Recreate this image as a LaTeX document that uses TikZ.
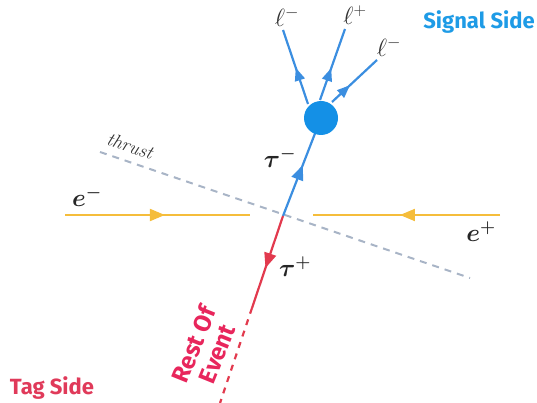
\documentclass[tikz,border=0pt]{standalone}
\usepackage{amsmath}
\usepackage{fontspec}
\setsansfont{Fira Sans}
\usetikzlibrary{arrows.meta,decorations.markings}
\definecolor{yel}{HTML}{F5BD3B}
\definecolor{blu}{HTML}{3B8EE0}
\definecolor{circ}{HTML}{1490E6}
\definecolor{redl}{HTML}{E23A4E}
\definecolor{roe}{HTML}{E8265C}
\definecolor{thr}{HTML}{A8B4C6}
\definecolor{sigblue}{HTML}{1E9BE6}
\definecolor{tagred}{HTML}{E03A5A}
\tikzset{
  marrow/.style={postaction={decorate},decoration={markings,mark=at position #1 with {\arrow{Triangle[length=15pt,width=12pt]}}}},
  sarrow/.style={postaction={decorate},decoration={markings,mark=at position #1 with {\arrow{Triangle[length=13pt,width=10pt]}}}},
  beam/.style={draw=yel,line width=2pt},
  bline/.style={draw=blu,line width=2.2pt},
  rline/.style={draw=redl,line width=2.2pt},
  mlab/.style={text=black!85,font=\fontsize{24}{28}\selectfont},
  llab/.style={text=black!80,font=\fontsize{23}{26}\selectfont},
  side/.style={font=\sffamily\bfseries\fontsize{22}{25}\selectfont},
}
\begin{document}
\begin{tikzpicture}[x=1pt,y=-1pt]
\useasboundingbox (0,0) rectangle (537,403);
% coordinates
\coordinate (X) at (283,216);
\coordinate (C) at (321,118);
\coordinate (Rs) at (252,308);
\coordinate (Re) at (220,403);
\coordinate (Tb) at (100,152);
\coordinate (Te) at (470,278);
\coordinate (EmA) at (65,215);
\coordinate (EmB) at (250,215);
\coordinate (EpA) at (500,215);
\coordinate (EpB) at (313,215);
\coordinate (S1) at (308,104);
\coordinate (S2) at (320,100);
\coordinate (S3) at (332,102);
\coordinate (L1) at (283,30);
\coordinate (L2) at (345,29);
\coordinate (L3) at (377,60);
% thrust
\draw[draw=thr,line width=2pt,dash pattern=on 7pt off 6pt] (Tb) -- (Te);
\node[rotate=-18,text=black!80,font=\itshape\fontsize{19}{22}\selectfont] (thrust) at (130,146) {thrust};
% beams
\draw[beam,marrow=0.54] (EmA) -- (EmB);
\draw[beam,marrow=0.535] (EpA) -- (EpB);
% tau lines
\draw[bline,marrow=0.52] (X) -- (C);
\draw[rline,marrow=0.565] (X) -- (Rs);
\draw[rline,dash pattern=on 6pt off 6pt] (Rs) -- (Re);
% leptons
\draw[bline,sarrow=0.49] (S1) -- (L1);
\draw[bline,sarrow=0.45] (S2) -- (L2);
\draw[bline,sarrow=0.40] (S3) -- (L3);
\node[circle,fill=circ,minimum size=34pt,inner sep=0pt] (blob) at (C) {};
% labels
\node[mlab] (em) at (87,197) {$\boldsymbol{e^-}$};
\node[mlab] (ep) at (481,232) {$\boldsymbol{e^+}$};
\node[mlab] (taum) at (280,158) {$\boldsymbol{\tau^-}$};
\node[mlab] (taup) at (295,267) {$\boldsymbol{\tau^+}$};
\node[llab] (l1) at (287,17) {$\ell^-$};
\node[llab] (l2) at (355,15) {$\ell^+$};
\node[llab] (l3) at (389,47) {$\ell^-$};
\node[rotate=68,text=roe,font=\sffamily\bfseries\fontsize{24}{25}\selectfont,align=center] (roe) at (205,349) {Rest Of\\Event};
\node[side,text=sigblue] (sig) at (479,22) {Signal Side};
\node[side,text=tagred] (tag) at (52,388) {Tag Side};
\end{tikzpicture}
\end{document}
